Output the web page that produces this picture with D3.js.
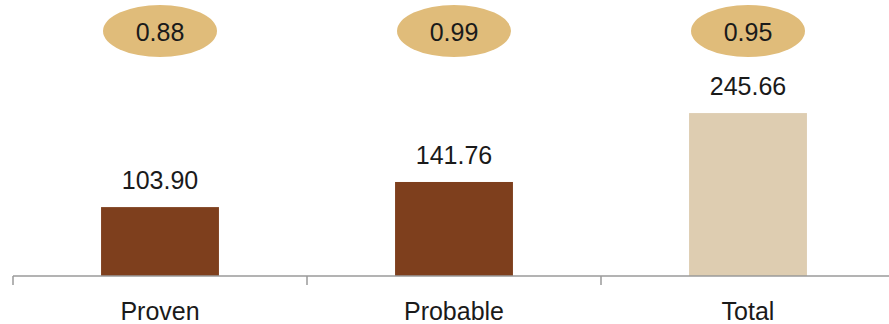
<!DOCTYPE html>
<html>
<head>
<meta charset="utf-8">
<script src="https://cdn.jsdelivr.net/npm/d3@7"></script>
<style>
  html, body { margin: 0; padding: 0; background: #fff; }
  svg { display: block; font-family: "Liberation Sans", Arial, sans-serif; }
</style>
</head>
<body>
<svg id="chart" width="889" height="324"></svg>
<script>
// Reserve categories, volumes and ratios
const categories = ["Proven", "Probable", "Total"];
const volumes = [103.90, 141.76, 245.66];
const ratios = [0.88, 0.99, 0.95];
const barColors = ["#7E3F1D", "#7E3F1D", "#DECDB1"];

const W = 889, H = 324;
const baseline = 276;
const svg = d3.select("#chart");

const x = d3.scaleBand()
  .domain(categories)
  .range([13, 895])
  .padding(0);

const y = d3.scaleLinear()
  .domain([0, 250])
  .range([baseline, baseline - 165.8]);

const barW = x.bandwidth() * 0.401;
const cx = c => x(c) + x.bandwidth() / 2;

// Bars
svg.append("g").selectAll("rect")
  .data(categories)
  .join("rect")
  .attr("x", c => cx(c) - barW / 2)
  .attr("width", barW)
  .attr("y", (c, i) => y(volumes[i]))
  .attr("height", (c, i) => y(0) - y(volumes[i]))
  .attr("fill", (c, i) => barColors[i]);

// Value labels above bars
svg.append("g").selectAll("text")
  .data(categories)
  .join("text")
  .attr("x", cx)
  .attr("y", (c, i) => y(volumes[i]) - 18)
  .attr("text-anchor", "middle")
  .attr("font-size", 25)
  .attr("fill", "#1a1a1a")
  .text((c, i) => volumes[i].toFixed(2));

// Axis with ticks at band edges
const edges = categories.map(c => x(c)).concat([x.range()[1]]);
const axis = svg.append("g");
axis.append("line")
  .attr("x1", 13).attr("x2", W)
  .attr("y1", baseline).attr("y2", baseline)
  .attr("stroke", "#9a9a9a").attr("stroke-width", 1.5);
axis.selectAll("line.tick")
  .data(edges)
  .join("line")
  .attr("class", "tick")
  .attr("x1", d => d).attr("x2", d => d)
  .attr("y1", baseline).attr("y2", baseline + 9)
  .attr("stroke", "#9a9a9a").attr("stroke-width", 1.5);

// Category labels
svg.append("g").selectAll("text")
  .data(categories)
  .join("text")
  .attr("x", cx)
  .attr("y", 320)
  .attr("text-anchor", "middle")
  .attr("font-size", 25)
  .attr("fill", "#1a1a1a")
  .text(c => c);

// Ratio badges
const badges = svg.append("g").selectAll("g")
  .data(categories)
  .join("g")
  .attr("transform", c => `translate(${cx(c)},31)`);
badges.append("ellipse")
  .attr("rx", 57).attr("ry", 26)
  .attr("fill", "#E0BC7A");
badges.append("text")
  .attr("y", 10.3)
  .attr("text-anchor", "middle")
  .attr("font-size", 25)
  .attr("fill", "#1a1a1a")
  .text((c, i) => ratios[i].toFixed(2));
</script>
</body>
</html>
